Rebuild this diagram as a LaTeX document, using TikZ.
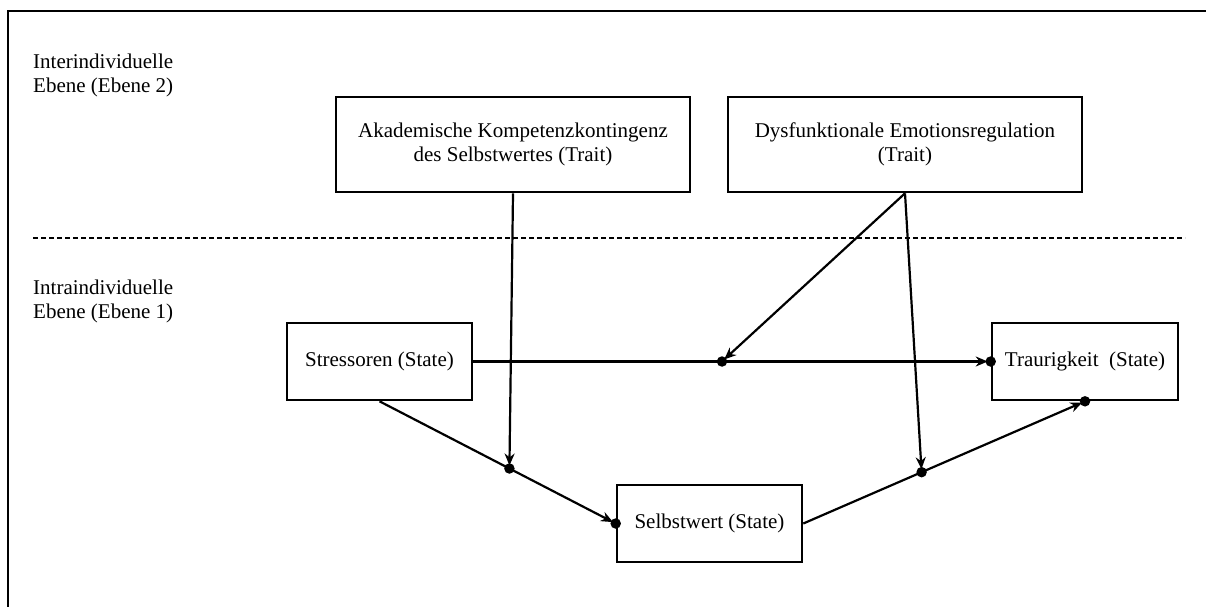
\documentclass[tikz,border=0pt]{standalone}
\usepackage{fontspec}
\setmainfont{Liberation Serif}
\usetikzlibrary{arrows.meta,calc}
\begin{document}
\begin{tikzpicture}[x=1pt,y=-1pt,
  box/.style={draw,line width=2.6pt,align=center,inner sep=0pt,
    font=\fontsize{21}{24}\selectfont},
  lbl/.style={align=left,anchor=north west,inner sep=0pt,
    font=\fontsize{21}{24}\selectfont},
  conn/.style={line width=2.2pt,-{Stealth[length=12pt,width=10pt]},shorten >=3pt},
  dotc/.style={circle,fill=black,inner sep=0pt,minimum size=10.5pt}]
\useasboundingbox (0,0) rectangle (1206,607);
% frame (top and left)
\draw[line width=2pt] (8,607) -- (8,11) -- (1206,11);
% level labels
\node[lbl] (l2) at (33,54) {Interindividuelle\\Ebene (Ebene 2)};
\node[lbl] (l1) at (33,280) {Intraindividuelle\\Ebene (Ebene 1)};
% separator
\coordinate (sepL) at (33,238);
\coordinate (sepR) at (1185,238);
\draw[line width=1.3pt,dash pattern=on 5pt off 3pt] (sepL) -- (sepR);
% boxes
\node[box,minimum width=354pt,minimum height=95pt] (A) at (513,144.5)
  {Akademische Kompetenzkontingenz\\des Selbstwertes (Trait)};
\node[box,minimum width=354pt,minimum height=95pt] (D) at (905,144.5)
  {Dysfunktionale Emotionsregulation\\(Trait)};
\node[box,minimum width=185pt,minimum height=77pt] (S) at (379.5,361.5)
  {Stressoren (State)};
\node[box,minimum width=186pt,minimum height=77pt] (T) at (1085,361.5)
  {Traurigkeit~ (State)};
\node[box,minimum width=185pt,minimum height=77pt] (W) at (709.5,523.5)
  {Selbstwert (State)};
% moderation points
\coordinate (m1) at ($(S.south)!0.55!(W.west)$);
\coordinate (m2) at (722,361.5);
\coordinate (m3) at ($(W.east)!0.42!(T.south)$);
% main paths
\draw[conn] (S.east) -- (T.west);
\draw[conn] (S.south) -- (W.west);
\draw[conn] (W.east) -- (T.south);
% moderator paths
\draw[conn] (A.south) -- (m1);
\draw[conn] (D.south) -- (m2);
\draw[conn] (D.south) -- (m3);
% dots
\node[dotc] (p1) at (m1) {};
\node[dotc] (p2) at (m2) {};
\node[dotc] (p3) at (m3) {};
\node[dotc] (pT) at (T.west) {};
\node[dotc] (pW) at (W.west) {};
\node[dotc] (pTs) at (T.south) {};
\end{tikzpicture}
\end{document}
